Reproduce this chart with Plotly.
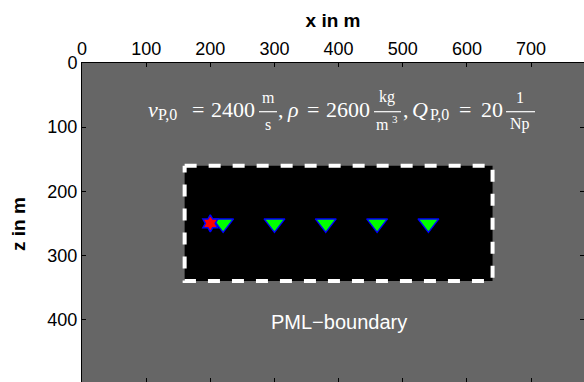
import plotly.graph_objects as go

# ---- data (metres) ----
x_ticks = [0, 100, 200, 300, 400, 500, 600, 700]
z_ticks = [0, 100, 200, 300, 400]
model_x = [160, 640]          # inner (non-PML) region, x extent
model_z = [160, 340]          # inner (non-PML) region, z extent
source_x = [200]
source_z = [250]
receiver_x = [220, 300, 380, 460, 540]
receiver_z = [250, 250, 250, 250, 250]
vp0 = 2400
rho = 2600
qp0 = 20
pml_label_xz = [400, 403]

# ---- layout geometry ----
W, H = 584, 382
ML, MT = 82, 63
PW, PH = W - ML, H - MT
SCALE = 0.6415  # px per metre
x_range = [0, PW / SCALE]
z_range = [PH / SCALE, 0]

fig = go.Figure()

rx = [model_x[0], model_x[1], model_x[1], model_x[0], model_x[0]]
rz = [model_z[0], model_z[0], model_z[1], model_z[1], model_z[0]]
fig.add_trace(go.Scatter(x=rx, y=rz, mode="lines", fill="toself", fillcolor="black",
                         line=dict(color="white", width=4, dash="dash"),
                         hoverinfo="skip", showlegend=False))

fig.add_trace(go.Scatter(x=receiver_x, y=receiver_z, mode="markers",
                         marker=dict(symbol="triangle-down", size=18, color="#00ff00",
                                     line=dict(color="#0000ff", width=1.5)),
                         showlegend=False))
fig.add_trace(go.Scatter(x=source_x, y=source_z, mode="markers",
                         marker=dict(symbol="hexagram", size=13, color="#ff0000",
                                     line=dict(color="#0000ff", width=1.5)),
                         showlegend=False))


def px2paper(px, py):
    return (px - ML) / PW, 1 - (py - MT) / PH


SERIF = "Liberation Serif, Times New Roman, serif"
Y_MAIN, Y_NUM, Y_DEN, Y_SUB = 109.7, 97.5, 124.0, 114.5
M, S = 22, 16
pieces = [
    ("<i>v</i>", 153, Y_MAIN, M),
    ("P,0", 167.5, Y_SUB, S),
    ("=", 198, Y_MAIN, M),
    (str(vp0), 233, Y_MAIN, M),
    ("m", 268, Y_NUM, S),
    ("s", 268, Y_DEN, S),
    (",", 281, Y_MAIN, M),
    ("<i>ρ</i>", 292.5, Y_MAIN, M),
    ("=", 312.5, Y_MAIN, M),
    (str(rho), 347.5, Y_MAIN, M),
    ("kg", 387, Y_NUM, S),
    ("m", 382, Y_DEN, S),
    ("3", 394.5, 119, 11),
    (",", 406, Y_MAIN, M),
    ("<i>Q</i>", 420, Y_MAIN, M),
    ("P,0", 439, Y_SUB, S),
    ("=", 465, Y_MAIN, M),
    (str(qp0), 492, Y_MAIN, M),
    ("1", 520, Y_NUM, S),
    ("Np", 520, Y_DEN, S),
]
for txt, px, py, sz in pieces:
    ax, ay = px2paper(px, py)
    fig.add_annotation(text=txt, x=ax, y=ay, xref="paper", yref="paper",
                       xanchor="center", yanchor="middle", showarrow=False,
                       font=dict(family=SERIF, size=sz, color="white"))

for x0, x1 in [(259, 277), (374, 401), (506, 535)]:
    a0, b = px2paper(x0, 111.7)
    a1, _ = px2paper(x1, 111.7)
    fig.add_shape(type="line", xref="paper", yref="paper", x0=a0, x1=a1, y0=b, y1=b,
                  line=dict(color="white", width=1.2))

fig.add_annotation(text="PML\u2212boundary", x=pml_label_xz[0], y=pml_label_xz[1],
                   xref="x", yref="y", showarrow=False,
                   font=dict(family="Liberation Sans, Arial, sans-serif", size=20, color="white"))

# y-axis title placed explicitly
tx, ty = px2paper(18, 224)
fig.add_annotation(text="<b>z in m</b>", x=tx, y=ty, xref="paper", yref="paper",
                   xanchor="center", yanchor="middle", textangle=-90, showarrow=False,
                   font=dict(family="Liberation Sans, Arial, sans-serif", size=19, color="black"))

axis_common = dict(ticks="inside", ticklen=4, tickwidth=1, tickcolor="black",
                   showline=True, linecolor="black", linewidth=1, mirror="ticks",
                   showgrid=False, zeroline=False, automargin=False,
                   tickfont=dict(family="Liberation Sans, Arial, sans-serif", size=18, color="black"))

fig.update_layout(
    width=W, height=H,
    margin=dict(l=ML, r=0, t=MT, b=0, pad=0),
    paper_bgcolor="white", plot_bgcolor="#666666",
    font=dict(family="Liberation Sans, Arial, sans-serif", color="black"),
    xaxis=dict(side="top", range=x_range, tickvals=x_ticks,
               title=dict(text="<b>x in m</b>", font=dict(size=19), standoff=6), **axis_common),
    yaxis=dict(range=z_range, tickvals=z_ticks, **axis_common),
    showlegend=False,
)

fig.write_html("out.html")
